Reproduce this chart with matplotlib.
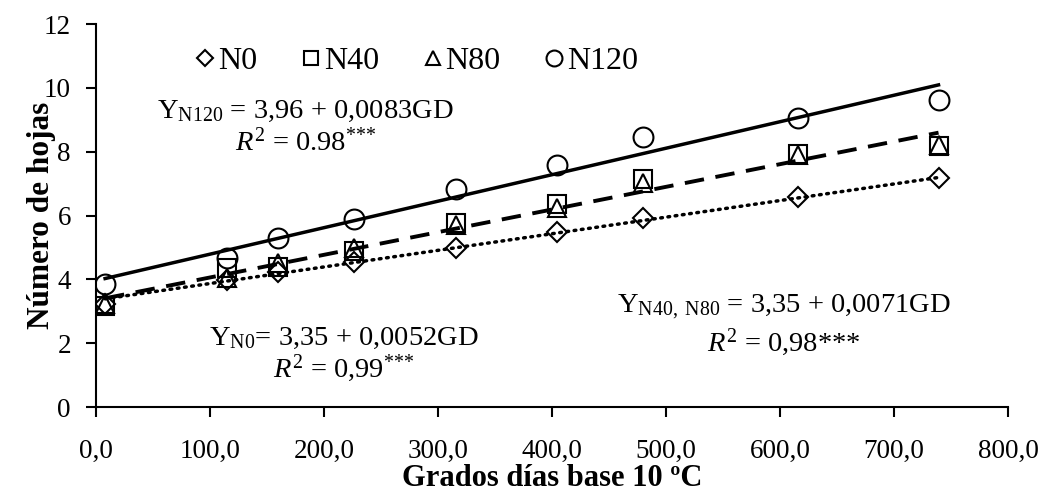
import numpy as np
import matplotlib
matplotlib.use("Agg")
import matplotlib.pyplot as plt
from matplotlib.ticker import FuncFormatter

plt.rcParams['font.family'] = ['Liberation Serif', 'DejaVu Serif']
plt.rcParams['mathtext.fontset'] = 'custom'
plt.rcParams['mathtext.rm'] = 'Liberation Serif'
plt.rcParams['mathtext.it'] = 'Liberation Serif:italic'
plt.rcParams['mathtext.bf'] = 'Liberation Serif:bold'

# grados dias base 10 C
gd = [8, 115, 160, 226, 316, 404, 480, 616, 739]
n0 = [3.23, 3.98, 4.23, 4.55, 4.98, 5.49, 5.92, 6.58, 7.18]
n40 = [3.17, 4.36, 4.39, 4.89, 5.77, 6.36, 7.15, 7.93, 8.18]
n80 = [3.23, 4.04, 4.51, 4.98, 5.70, 6.25, 7.02, 7.90, 8.20]
n120 = [3.85, 4.67, 5.30, 5.89, 6.83, 7.59, 8.46, 9.05, 9.62]

# regression coefficients (intercept, slope)
fit_n0 = (3.35, 0.0052)
fit_n40_80 = (3.35, 0.0071)
fit_n120 = (3.96, 0.0083)

fig = plt.figure(figsize=(10.4, 4.91), dpi=100)
ax = fig.add_axes([0.0923, 0.171, 0.877, 0.780])

x = np.array(gd)
ms = 13
ax.plot(gd, n0, ls='none', marker='D', ms=ms*0.75, mfc='none', mec='black', mew=1.5, label='N0')
ax.plot(gd, n40, ls='none', marker='s', ms=ms, mfc='none', mec='black', mew=1.5, label='N40')
ax.plot(gd, n80, ls='none', marker='^', ms=ms, mfc='none', mec='black', mew=1.5, label='N80')
ax.plot(gd, n120, ls='none', marker='o', ms=ms*1.1, mfc='none', mec='black', mew=1.5, label='N120')

ax.plot(x, fit_n0[0] + fit_n0[1]*x, color='black', lw=2.5, ls=(0, (0.5, 1.6)), dash_capstyle='round')
ax.plot(x, fit_n40_80[0] + fit_n40_80[1]*x, color='black', lw=2.8, ls=(0, (5, 3)))
ax.plot(x, fit_n120[0] + fit_n120[1]*x, color='black', lw=2.5)

ax.set_xlim(0, 800)
ax.set_ylim(0, 12)
ax.set_xticks(np.arange(0, 801, 100))
ax.set_yticks(np.arange(0, 13, 2))
ax.xaxis.set_major_formatter(FuncFormatter(lambda v, p: f"{v:.1f}".replace('.', ',')))
ax.tick_params(direction='out', length=7, width=1.5, labelsize=19.5, colors='black')
ax.tick_params(axis='x', pad=16)
ax.tick_params(axis='y', pad=11)
for s in ['top', 'right']:
    ax.spines[s].set_visible(False)
for s in ['left', 'bottom']:
    ax.spines[s].set_linewidth(1.5)

ax.set_xlabel('Grados días base 10 ºC', fontsize=22, fontweight='bold', labelpad=0)
ax.set_ylabel('Número de hojas', fontsize=22.5, fontweight='bold')
ax.yaxis.set_label_coords(-0.044, 0.5)

tfs = 20.5
ax.text(184, 9.25, r'Y$_{\mathrm{N120}}$ = 3,96 + 0,0083GD', fontsize=tfs, ha='center', va='center')
ax.text(184, 8.28, r'$\mathit{R}^{2}$ = 0.98$^{{*}{*}{*}}$', fontsize=tfs, ha='center', va='center')
ax.text(217, 2.16, r'Y$_{\mathrm{N0}}$= 3,35 + 0,0052GD', fontsize=tfs, ha='center', va='center')
ax.text(217, 1.22, r'$\mathit{R}^{2}$ = 0,99$^{{*}{*}{*}}$', fontsize=tfs, ha='center', va='center')
ax.text(603, 3.13, r'Y$_{\mathrm{N40,\ N80}}$ = 3,35 + 0,0071GD', fontsize=tfs, ha='center', va='center')
ax.text(603, 2.04, r'$\mathit{R}^{2}$ = 0,98***', fontsize=tfs, ha='center', va='center')

ax.legend(loc='upper left', bbox_to_anchor=(0.078, 1.015), ncol=4, frameon=False, fontsize=23,
          handlelength=0.6, handletextpad=0.1, columnspacing=1.38, markerscale=0.8)

fig.savefig('out.png', dpi=100)
